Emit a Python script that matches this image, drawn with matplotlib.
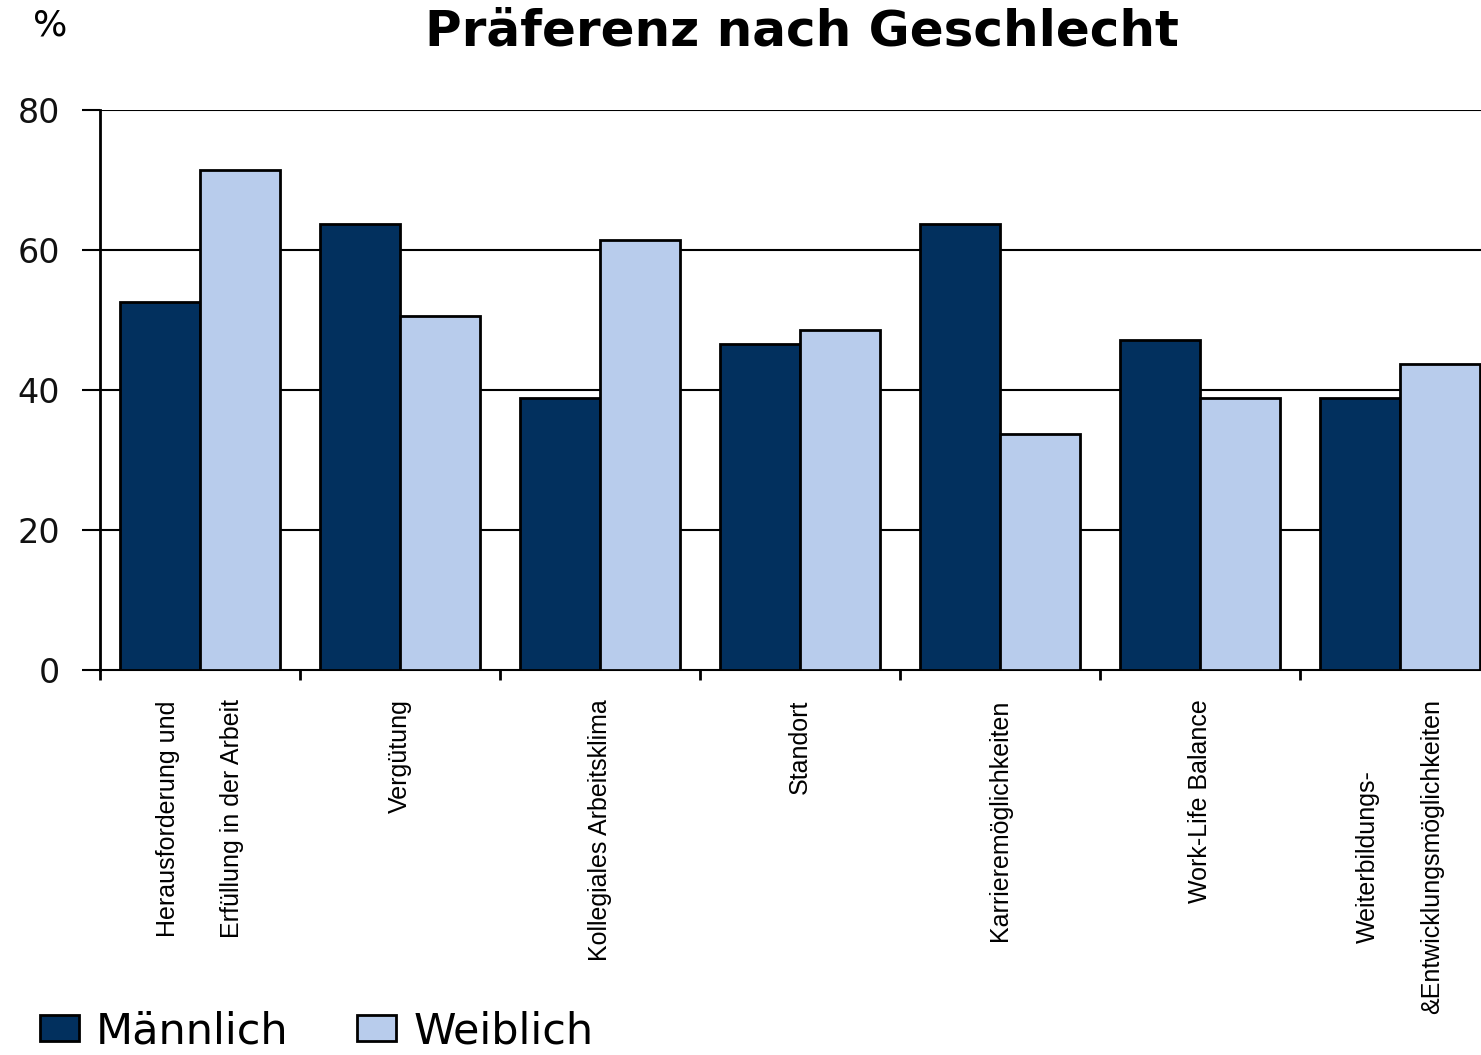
import matplotlib
matplotlib.use("Agg")
import matplotlib.pyplot as plt
from matplotlib import font_manager
import numpy as np

categories = [
    "Herausforderung und\nErfüllung in der Arbeit",
    "Vergütung",
    "Kollegiales Arbeitsklima",
    "Standort",
    "Karrieremöglichkeiten",
    "Work-Life Balance",
    "Weiterbildungs-\n&Entwicklungsmöglichkeiten",
]
maennlich = [52.6, 63.7, 38.9, 46.6, 63.7, 47.1, 38.9]
weiblich = [71.4, 50.6, 61.4, 48.6, 33.7, 38.9, 43.7]
y_ticks = [0, 20, 40, 60, 80]

dark = "#02305E"
light = "#B8CCEC"

names = {f.name for f in font_manager.fontManager.ttflist}
narrow = "Liberation Sans Narrow" if "Liberation Sans Narrow" in names else "Liberation Sans"

fig = plt.figure(figsize=(14.81, 10.55), dpi=100)
# axes run past the right edge of the figure, as in the original
ax = fig.add_axes([100 / 1481, 385 / 1055, 1400 / 1481, 560 / 1055])

x = np.arange(len(categories))
ax.bar(x + 0.1, maennlich, width=0.4, align="edge", color=dark,
       edgecolor="black", linewidth=2, zorder=3, label="Männlich")
ax.bar(x + 0.5, weiblich, width=0.4, align="edge", color=light,
       edgecolor="black", linewidth=2, zorder=3, label="Weiblich")

ax.set_xlim(0, len(categories))
ax.set_ylim(0, 80)

# grid lines
for v in y_ticks[1:]:
    ax.axhline(v, color="black", linewidth=1.5, zorder=1)

ax.set_yticks(y_ticks)
ax.set_yticklabels([str(v) for v in y_ticks], fontsize=24, color="#111111",
                   family="DejaVu Sans")
ax.tick_params(axis="y", length=13, width=1.5, pad=16)

ax.set_xticks(np.arange(len(categories) + 1))
ax.set_xticklabels([])
ax.tick_params(axis="x", which="major", length=7, width=2)
ax.set_xticks(x + 0.5, minor=True)
ax.set_xticklabels(categories, minor=True, rotation=90, fontsize=18,
                   family=narrow, va="top", ha="center",
                   multialignment="center", linespacing=3.1)
ax.tick_params(axis="x", which="minor", length=0, pad=21)

for s in ["top", "right"]:
    ax.spines[s].set_visible(False)
ax.spines["left"].set_linewidth(2)
ax.spines["bottom"].set_linewidth(1.5)

fig.text(802 / 1481, 1 - 31 / 1055, "Präferenz nach Geschlecht",
         ha="center", va="center", fontsize=36, fontweight="bold",
         family="DejaVu Sans")
fig.text(50 / 1481, 1 - 25 / 1055, "%", ha="center", va="center",
         fontsize=26, family="DejaVu Sans")

fig.legend(loc="lower left", bbox_to_anchor=(40 / 1481, 3 / 1055), ncol=2,
           frameon=False, borderpad=0, borderaxespad=0,
           handlelength=0.9, handleheight=0.57,
           handletextpad=0.4, columnspacing=1.6,
           prop={"family": "DejaVu Sans", "size": 31})

fig.savefig("out.png", dpi=100)
